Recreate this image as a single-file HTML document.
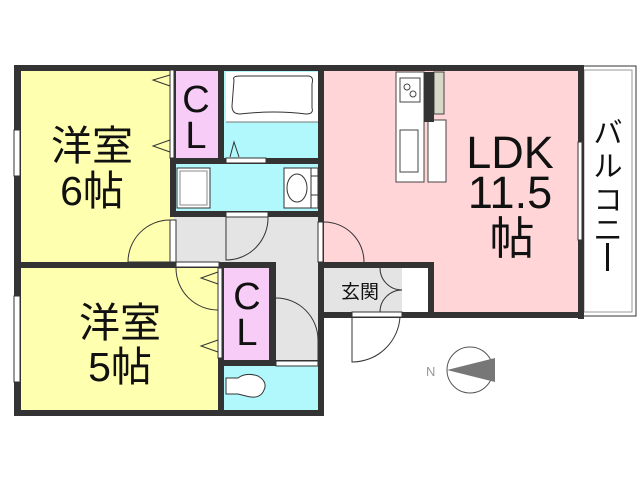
<!DOCTYPE html>
<html><head><meta charset="utf-8"><style>
html,body{margin:0;padding:0;background:#fff;}
svg{display:block;}
text{font-family:"Liberation Sans","Noto Sans CJK JP",sans-serif;fill:#111;}
</style></head><body>
<svg width="640" height="480" viewBox="0 0 640 480" xmlns="http://www.w3.org/2000/svg">
<rect width="640" height="480" fill="#fff"/>
<rect x="580" y="66" width="56" height="250" fill="#fff" stroke="#333" stroke-width="1"/>
<rect x="584" y="70" width="48" height="242" fill="none" stroke="#999" stroke-width="1"/>
<rect x="18" y="68" width="156" height="196" fill="#ffffb0"/>
<rect x="18" y="264" width="204" height="150" fill="#ffffb0"/>
<rect x="174" y="68" width="48" height="92" fill="#f7ccf7"/>
<rect x="222" y="68" width="98" height="92" fill="#b0f8fc"/>
<rect x="226" y="72" width="92" height="50" fill="#fff"/>
<rect x="174" y="162" width="146" height="52" fill="#b0f8fc"/>
<rect x="174" y="214" width="148" height="50" fill="#e4e4e4"/>
<rect x="272" y="264" width="50" height="100" fill="#e4e4e4"/>
<rect x="222" y="264" width="50" height="100" fill="#f7ccf7"/>
<rect x="222" y="364" width="98" height="50" fill="#b0f8fc"/>
<rect x="320" y="68" width="262" height="248" fill="#ffd5d8"/>
<rect x="320" y="264" width="112" height="50" fill="#fff"/>
<rect x="322" y="266" width="80" height="48" fill="#e4e4e4"/>
<path d="M234 80 Q232 76 240 76 L308 76 Q314 76 312 84 L312 108 Q314 114 306 114 Q275 110 240 114 Q232 114 232 106 Z" fill="#fff" stroke="#333" stroke-width="1"/>
<line x1="226" y1="122" x2="318" y2="122" stroke="#777" stroke-width="1"/>
<path d="M230 157 L234 142 L239 157" fill="none" stroke="#333" stroke-width="1"/>
<rect x="177" y="168" width="33" height="40" fill="#fff" stroke="#333" stroke-width="1"/>
<rect x="180" y="171" width="27" height="34" fill="none" stroke="#888" stroke-width="1"/>
<rect x="284" y="168" width="34" height="40" fill="#fff" stroke="#333" stroke-width="1"/>
<ellipse cx="297" cy="188" rx="10" ry="14" fill="#fff" stroke="#333" stroke-width="1"/>
<line x1="311" y1="176" x2="318" y2="176" stroke="#333"/><line x1="311" y1="195" x2="318" y2="195" stroke="#333"/><line x1="311" y1="168" x2="311" y2="208" stroke="#333"/>
<path d="M226 378 L238 378 Q246 372 258 376 Q268 382 264 390 Q260 400 246 396 L238 394 L226 394 Z" fill="#fff" stroke="#333" stroke-width="1"/>
<rect x="396" y="72" width="28" height="110" fill="#fff" stroke="#444" stroke-width="1"/>
<rect x="400" y="78" width="20" height="24" fill="#fff" stroke="#444" stroke-width="1"/>
<circle cx="407" cy="87" r="3" fill="none" stroke="#444"/><circle cx="413" cy="94" r="3" fill="none" stroke="#444"/>
<rect x="400" y="130" width="18" height="42" fill="#fff" stroke="#444" stroke-width="1"/>
<rect x="428" y="120" width="18" height="62" fill="#fff" stroke="#444" stroke-width="1"/>
<rect x="434" y="72" width="10" height="42" fill="#d8d8c8" stroke="#444" stroke-width="1"/>
<g fill="#333">
<rect x="14" y="65" width="570" height="6"/>
<rect x="14" y="65" width="7" height="351"/>
<rect x="14" y="410" width="310" height="6"/>
<rect x="578" y="65" width="6" height="254"/>
<rect x="318" y="65" width="6" height="200"/>
<rect x="170" y="158" width="154" height="6"/>
<rect x="170" y="211" width="154" height="6"/>
<rect x="170" y="65" width="6" height="152"/>
<rect x="218" y="65" width="6" height="99"/>
<rect x="14" y="262" width="210" height="6"/>
<rect x="218" y="262" width="6" height="154"/>
<rect x="218" y="262" width="57" height="6"/>
<rect x="269" y="262" width="7" height="104"/>
<rect x="218" y="360" width="106" height="6"/>
<rect x="318" y="262" width="6" height="154"/>
<rect x="318" y="262" width="116" height="6"/>
<rect x="428" y="262" width="6" height="56"/>
<rect x="318" y="312" width="266" height="6"/>
<rect x="424" y="72" width="10" height="50"/>
</g>
<g fill="#fff" stroke="#333" stroke-width="1">
<rect x="170" y="220" width="6" height="42"/>
<rect x="226" y="158" width="40" height="5"/>
<rect x="226" y="212" width="42" height="5"/>
<rect x="176" y="262" width="43" height="5"/>
<rect x="218" y="268" width="4" height="90"/>
<rect x="276" y="361" width="42" height="5"/>
<rect x="318" y="222" width="5" height="40"/>
<rect x="352" y="312" width="50" height="5"/>
<rect x="14" y="130" width="6" height="46"/>
<rect x="14" y="296" width="6" height="86"/>
<rect x="578" y="142" width="4" height="98"/>
<rect x="170" y="70" width="4" height="88"/>
</g>
<g fill="none" stroke="#333" stroke-width="1">
<path d="M170 220 A42 42 0 0 0 128 262 L170 262"/>
<path d="M226 217 L226 260 A42 42 0 0 0 268 217"/>
<path d="M176 268 A42 42 0 0 0 218 310"/>
<path d="M276 298 A42 42 0 0 1 318 340 L318 361"/>
<path d="M324 222 A40 40 0 0 1 364 262"/>
<path d="M352 317 L352 362 A48 48 0 0 0 400 317"/>
<path d="M380 268 A22 22 0 0 0 402 290 A22 22 0 0 0 380 312"/>
<path d="M170 75 L153 80 L170 86"/><path d="M170 140 L153 146 L170 152"/>
<path d="M218 272 L201 278 L218 284"/><path d="M218 340 L201 346 L218 352"/>
</g>
<circle cx="470" cy="370" r="23" fill="#fff" stroke="#555" stroke-width="1"/>
<path d="M447 370 L495 358 L495 382 Z" fill="#777"/>
<text x="426" y="376" font-size="13" style="fill:#999">N</text>
<text x="92" y="160" font-size="41" text-anchor="middle">洋室</text>
<text x="92" y="205" font-size="41" text-anchor="middle">6帖</text>
<text x="120" y="337" font-size="41" text-anchor="middle">洋室</text>
<text x="120" y="381" font-size="41" text-anchor="middle">5帖</text>
<text x="196" y="112" font-size="38" text-anchor="middle">C</text>
<text x="196" y="148" font-size="38" text-anchor="middle">L</text>
<text x="247" y="309" font-size="38" text-anchor="middle">C</text>
<text x="247" y="345" font-size="38" text-anchor="middle">L</text>
<text x="510" y="168" font-size="45" text-anchor="middle">LDK</text>
<text x="510" y="208" font-size="45" text-anchor="middle">11.5</text>
<text x="512" y="254" font-size="45" text-anchor="middle">帖</text>
<text x="360" y="298" font-size="19" text-anchor="middle">玄関</text>
<text x="608" y="143" font-size="29" text-anchor="middle">バ</text>
<text x="608" y="176" font-size="29" text-anchor="middle">ル</text>
<text x="608" y="210" font-size="29" text-anchor="middle">コ</text>
<text x="608" y="240" font-size="29" text-anchor="middle">ニ</text>
<rect x="606" y="243" width="3" height="28" fill="#111"/>
</svg>
</body></html>
